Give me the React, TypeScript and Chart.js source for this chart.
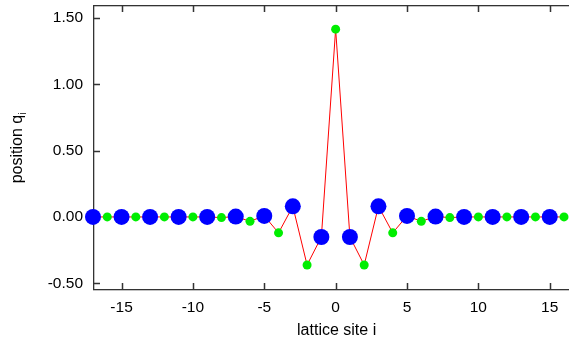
import React, { useEffect, useRef } from "react";
import { Chart, registerables } from "chart.js";

Chart.register(...registerables);

const sites = [-17, -16, -15, -14, -13, -12, -11, -10, -9, -8, -7, -6, -5, -4, -3, -2, -1, 0, 1, 2, 3, 4, 5, 6, 7, 8, 9, 10, 11, 12, 13, 14, 15, 16];
const positions = [0, 0, 0, 0, 0, 0, 0, 0, 0, -0.005, 0.003, -0.033, 0.008, -0.12, 0.08, -0.362, -0.151, 1.415, -0.151, -0.362, 0.08, -0.12, 0.008, -0.033, 0.003, -0.005, 0, 0, 0, 0, 0, 0, 0, 0];
const xTicks = [-15, -10, -5, 0, 5, 10, 15];
const yTicks = [-0.5, 0, 0.5, 1, 1.5];

const FONT = '"Liberation Sans", Arial, sans-serif';

const framePlugin = {
  id: "frame",
  beforeDatasetsDraw(chart: any) {
    const ctx = chart.ctx;
    const { left, right, top, bottom } = chart.chartArea;
    const xs = chart.scales.x;
    const ys = chart.scales.y;
    ctx.save();
    ctx.fillStyle = "#333";
    const L = Math.round(left);
    const T = Math.round(top);
    const B = Math.round(bottom);
    const R = Math.round(right) + 2;
    ctx.fillRect(L, T, R - L, 1.3);
    ctx.fillRect(L, B, R - L, 1.3);
    ctx.fillRect(L, T, 1.3, B - T + 1);
    for (let i = 0; i < xTicks.length; i++) {
      const px = Math.round(xs.getPixelForValue(xTicks[i]));
      ctx.fillRect(px - 0.25, T, 1.5, 7);
      ctx.fillRect(px - 0.25, B - 6, 1.5, 7);
    }
    for (let i = 0; i < yTicks.length; i++) {
      const py = Math.round(ys.getPixelForValue(yTicks[i]));
      ctx.fillRect(L, py - 0.25, 7, 1.5);
    }
    ctx.restore();
  },
  afterDraw(chart: any) {
    const ctx = chart.ctx;
    const xs = chart.scales.x;
    ctx.save();
    ctx.fillStyle = "#000";
    ctx.font = "16px " + FONT;
    ctx.textAlign = "center";
    ctx.textBaseline = "alphabetic";
    ctx.fillText("lattice site i", xs.getPixelForValue(0) + 1, 335);

    ctx.translate(17, 148);
    ctx.rotate(-Math.PI / 2);
    ctx.textAlign = "left";
    ctx.textBaseline = "alphabetic";
    const main = "position q";
    ctx.font = "16px " + FONT;
    const w1 = ctx.measureText(main).width;
    ctx.font = "10px " + FONT;
    const w2 = ctx.measureText("i").width;
    const start = -(w1 + w2) / 2;
    ctx.font = "16px " + FONT;
    ctx.fillText(main, start, 5);
    ctx.font = "10px " + FONT;
    ctx.fillText("i", start + w1, 8.5);
    ctx.restore();
  },
};

export default function App() {
  const ref = useRef<HTMLCanvasElement | null>(null);
  useEffect(() => {
    if (!ref.current) return;
    const data = sites.map((s, i) => ({ x: s, y: positions[i] }));
    const chart = new Chart(ref.current, {
      type: "line",
      data: {
        datasets: [
          {
            data,
            borderColor: "#ff0000",
            borderWidth: 1,
            tension: 0,
            clip: false as any,
            pointRadius: sites.map((s) => (Math.abs(s) % 2 === 1 ? 8 : 4.5)),
            pointBackgroundColor: sites.map((s) => (Math.abs(s) % 2 === 1 ? "#0000ff" : "#00ee00")),
            pointBorderColor: sites.map((s) => (Math.abs(s) % 2 === 1 ? "#0000ff" : "#00ee00")),
            pointBorderWidth: 0,
          },
        ],
      },
      options: {
        animation: false,
        responsive: false,
        maintainAspectRatio: false,
        layout: { autoPadding: false, padding: { left: 0, right: 0, top: 5, bottom: 0 } },
        plugins: { legend: { display: false }, tooltip: { enabled: false } },
        scales: {
          x: {
            type: "linear",
            min: -17,
            max: 16.35,
            grid: { display: false, drawTicks: false },
            border: { display: false },
            afterBuildTicks: (scale: any) => {
              scale.ticks = xTicks.map((v) => ({ value: v }));
            },
            afterFit: (scale: any) => {
              scale.height = 50;
              scale.paddingLeft = 0;
              scale.paddingRight = 0;
              scale.paddingTop = 0;
              scale.paddingBottom = 0;
            },
            ticks: {
              color: "#000",
              font: { family: FONT, size: 15.5 },
              padding: 9,
              maxRotation: 0,
              autoSkip: false,
              callback: (v: any) => String(v),
            },
          },
          y: {
            type: "linear",
            min: -0.543,
            max: 1.597,
            grid: { display: false, drawTicks: false },
            border: { display: false },
            afterBuildTicks: (scale: any) => {
              scale.ticks = yTicks.map((v) => ({ value: v }));
            },
            afterFit: (scale: any) => {
              scale.width = 93;
              scale.paddingLeft = 0;
              scale.paddingRight = 0;
              scale.paddingTop = 0;
              scale.paddingBottom = 0;
            },
            ticks: {
              color: "#000",
              font: { family: FONT, size: 15.5 },
              padding: 10,
              autoSkip: false,
              callback: (v: any) => Number(v).toFixed(2),
            },
          },
        },
      },
      plugins: [framePlugin],
    });
    return () => chart.destroy();
  }, []);
  return (
    <div style={{ position: "fixed", left: 0, top: 0, width: 569, height: 339, background: "#fff" }}>
      <canvas ref={ref} width={569} height={339} style={{ display: "block" }} />
    </div>
  );
}
